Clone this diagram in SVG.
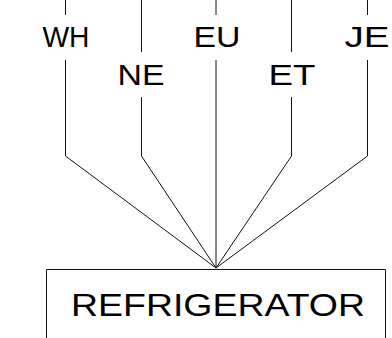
<svg xmlns="http://www.w3.org/2000/svg" width="392" height="338" viewBox="0 0 392 338">
<style>
.lbl{font-family:"Liberation Sans",Arial,sans-serif;font-size:29.5px;fill:#000;text-anchor:middle}
.big{font-family:"Liberation Sans",Arial,sans-serif;font-size:31.5px;fill:#000;text-anchor:middle}
.ln{fill:none;stroke:#111;stroke-width:1}
</style>
<rect width="392" height="338" fill="#fff"/>
<g id="connectors">
<path class="ln" d="M65.5,0 V15 M65.5,60 V156 L216,268"/>
<path class="ln" d="M141.5,0 V52 M141.5,97 V156 L216,268"/>
<path class="ln" d="M216,0 V15 M216,60 V268"/>
<path class="ln" d="M291.5,0 V52 M291.5,97 V156 L216,268"/>
<path class="ln" d="M367.5,0 V15 M367.5,60 V156 L216,268"/>
</g>
<g id="node-WH"><text class="lbl" x="66" y="46.5" textLength="47" lengthAdjust="spacingAndGlyphs">WH</text></g>
<g id="node-NE"><text class="lbl" x="141" y="84.5" textLength="47" lengthAdjust="spacingAndGlyphs">NE</text></g>
<g id="node-EU"><text class="lbl" x="217" y="46.5" textLength="47" lengthAdjust="spacingAndGlyphs">EU</text></g>
<g id="node-ET"><text class="lbl" x="292" y="84.5" textLength="47" lengthAdjust="spacingAndGlyphs">ET</text></g>
<g id="node-JE"><text class="lbl" x="367" y="46.5" textLength="45" lengthAdjust="spacingAndGlyphs">JE</text></g>
<g id="node-REFRIGERATOR">
<path class="ln" d="M46.5,340 V269.5 H385.5 V340"/>
<text class="big" x="218" y="316" textLength="294" lengthAdjust="spacingAndGlyphs">REFRIGERATOR</text>
</g>
</svg>
